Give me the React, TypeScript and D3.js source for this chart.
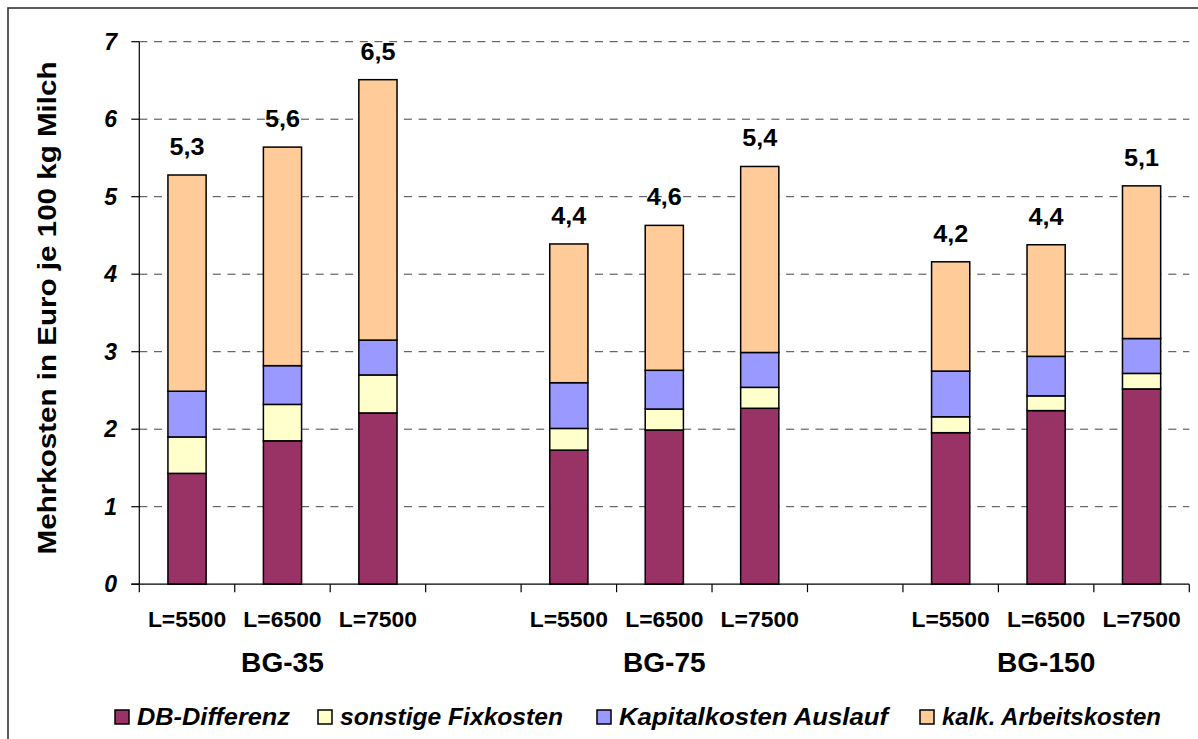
import { useEffect, useRef } from 'react';
import * as d3 from 'd3';

const groups = ['BG-35', 'BG-75', 'BG-150'];
const levels = ['L=5500', 'L=6500', 'L=7500'];
const seriesNames = ['DB-Differenz', 'sonstige Fixkosten', 'Kapitalkosten Auslauf', 'kalk. Arbeitskosten'];
const seriesColors = ['#993366', '#FFFFCC', '#9999FF', '#FFCC99'];

// one value per bar: BG-35 (5500, 6500, 7500), BG-75 (...), BG-150 (...)
const dbDifferenz = [1.43, 1.85, 2.21, 1.73, 1.99, 2.27, 1.955, 2.24, 2.52];
const sonstigeFixkosten = [0.47, 0.47, 0.49, 0.28, 0.27, 0.27, 0.205, 0.19, 0.2];
const kapitalkostenAuslauf = [0.59, 0.5, 0.45, 0.59, 0.5, 0.45, 0.59, 0.51, 0.45];
const arbeitskosten = [2.79, 2.82, 3.36, 1.79, 1.87, 2.4, 1.41, 1.44, 1.97];

const yTicks = [0, 1, 2, 3, 4, 5, 6, 7];

const FONT = '"Liberation Sans", Arial, sans-serif';

// legend layout: where each key starts and how wide its text runs
const legendX = [115, 318, 597, 920];
const legendW = [153, 223, 269, 219];

// the original text is set a little wider than Arial
const widen = (sel: any, factor: number) => {
  sel.each(function (this: SVGTextElement) {
    const w = this.getComputedTextLength();
    d3.select(this).attr('textLength', w * factor).attr('lengthAdjust', 'spacingAndGlyphs');
  });
};

const App = () => {
  const chart = useRef<SVGSVGElement>(null);

  useEffect(() => {
    const width = 1198;
    const height = 739;
    const x0 = 139.3;
    const x1 = 1189.3;
    const yTop = 41.7;
    const yBottom = 584.2;

    const svg = d3.select(chart.current);
    svg.selectAll('*').remove();
    svg.attr('width', width).attr('height', height).style('background', '#fff');

    // outer frame (runs off the right/bottom edge like the original)
    svg.append('rect')
      .attr('x', 8).attr('y', 8)
      .attr('width', width).attr('height', height)
      .attr('fill', 'none').attr('stroke', '#333').attr('stroke-width', 1.6);

    const keys = ['db', 'fix', 'kap', 'arb'];
    const rows = dbDifferenz.map((d, i) => ({
      slot: Math.floor(i / 3) * 4 + (i % 3),
      level: levels[i % 3],
      db: d,
      fix: sonstigeFixkosten[i],
      kap: kapitalkostenAuslauf[i],
      arb: arbeitskosten[i],
    }));

    const xScale = d3.scaleBand<number>()
      .domain(d3.range(11))
      .range([x0, x1])
      .paddingInner(0.6)
      .paddingOuter(0.3);

    const yScale = d3.scaleLinear().domain([0, 7]).range([yBottom, yTop]);

    // grid
    svg.append('g')
      .selectAll('line')
      .data(yTicks.filter((t) => t > 0))
      .join('line')
      .attr('x1', x0).attr('x2', x1)
      .attr('y1', (d) => yScale(d)).attr('y2', (d) => yScale(d))
      .attr('stroke', '#444').attr('stroke-width', 1)
      .attr('stroke-dasharray', '8,6.7');

    // y axis
    const yAxis = svg.append('g');
    yAxis.append('line')
      .attr('x1', x0).attr('x2', x0)
      .attr('y1', yTop).attr('y2', yBottom)
      .attr('stroke', '#000').attr('stroke-width', 1.2);
    yAxis.selectAll('.tick')
      .data(yTicks)
      .join('line')
      .attr('x1', x0 - 8).attr('x2', x0)
      .attr('y1', (d) => yScale(d)).attr('y2', (d) => yScale(d))
      .attr('stroke', '#000').attr('stroke-width', 1.2);
    yAxis.selectAll('text')
      .data(yTicks)
      .join('text')
      .text((d) => d)
      .attr('x', 117)
      .attr('y', (d) => yScale(d) + 8)
      .attr('text-anchor', 'end')
      .attr('font-family', FONT)
      .attr('font-size', 23)
      .attr('font-weight', 'bold')
      .attr('font-style', 'italic');

    // bars
    const stacked = d3.stack().keys(keys)(rows as any);
    svg.append('g')
      .selectAll('g')
      .data(stacked)
      .join('g')
      .attr('fill', (d, i) => seriesColors[i])
      .selectAll('rect')
      .data((d) => d)
      .join('rect')
      .attr('x', (d: any) => xScale(d.data.slot)!)
      .attr('width', xScale.bandwidth())
      .attr('y', (d) => yScale(d[1]))
      .attr('height', (d) => yScale(d[0]) - yScale(d[1]))
      .attr('stroke', '#000')
      .attr('stroke-width', 1.5);

    // totals
    const totals = svg.append('g')
      .selectAll('text')
      .data(rows)
      .join('text')
      .text((d) => (d.db + d.fix + d.kap + d.arb).toFixed(1).replace('.', ','))
      .attr('x', (d) => xScale(d.slot)! + xScale.bandwidth() / 2)
      .attr('y', (d) => yScale(d.db + d.fix + d.kap + d.arb) - 20)
      .attr('text-anchor', 'middle')
      .attr('font-family', FONT)
      .attr('font-size', 24)
      .attr('font-weight', 'bold');
    widen(totals, 1.05);

    // x axis
    const xAxis = svg.append('g');
    xAxis.append('line')
      .attr('x1', x0 - 8).attr('x2', x1)
      .attr('y1', yBottom).attr('y2', yBottom)
      .attr('stroke', '#000').attr('stroke-width', 1.2);
    xAxis.selectAll('.xtick')
      .data(d3.range(12))
      .join('line')
      .attr('x1', (d) => x0 + d * xScale.step()).attr('x2', (d) => x0 + d * xScale.step())
      .attr('y1', yBottom).attr('y2', yBottom + 8)
      .attr('stroke', '#000').attr('stroke-width', 1.2);
    const levelText = xAxis.selectAll('.level')
      .data(rows)
      .join('text')
      .text((d) => d.level)
      .attr('x', (d) => xScale(d.slot)! + xScale.bandwidth() / 2)
      .attr('y', 627)
      .attr('text-anchor', 'middle')
      .attr('font-family', FONT)
      .attr('font-size', 22)
      .attr('font-weight', 'bold');
    widen(levelText, 1.04);
    const groupText = xAxis.selectAll('.group')
      .data(groups)
      .join('text')
      .text((d) => d)
      .attr('x', (d, i) => xScale(i * 4 + 1)! + xScale.bandwidth() / 2)
      .attr('y', 672)
      .attr('text-anchor', 'middle')
      .attr('font-family', FONT)
      .attr('font-size', 27)
      .attr('font-weight', 'bold');
    widen(groupText, 1.04);

    // y title
    const title = svg.append('text')
      .text('Mehrkosten in Euro je 100 kg Milch')
      .attr('transform', `translate(56,${(yTop + yBottom) / 2 - 5}) rotate(-90)`)
      .attr('text-anchor', 'middle')
      .attr('font-family', FONT)
      .attr('font-size', 25)
      .attr('font-weight', 'bold');
    widen(title, 493 / (title.node() as SVGTextElement).getComputedTextLength());

    // legend
    const legend = svg.append('g');
    seriesNames.forEach((name, i) => {
      legend.append('rect')
        .attr('x', legendX[i]).attr('y', 710)
        .attr('width', 14).attr('height', 14)
        .attr('fill', seriesColors[i])
        .attr('stroke', '#000').attr('stroke-width', 1.5);
      legend.append('text')
        .text(name)
        .attr('x', legendX[i] + 22)
        .attr('y', 725)
        .attr('font-family', FONT)
        .attr('font-size', 23)
        .attr('font-weight', 'bold')
        .attr('font-style', 'italic')
        .attr('textLength', legendW[i])
        .attr('lengthAdjust', 'spacingAndGlyphs');
    });
  }, []);

  return (
    <svg ref={chart} style={{ position: 'absolute', left: 0, top: 0, display: 'block' }}></svg>
  );
};

export default App;
